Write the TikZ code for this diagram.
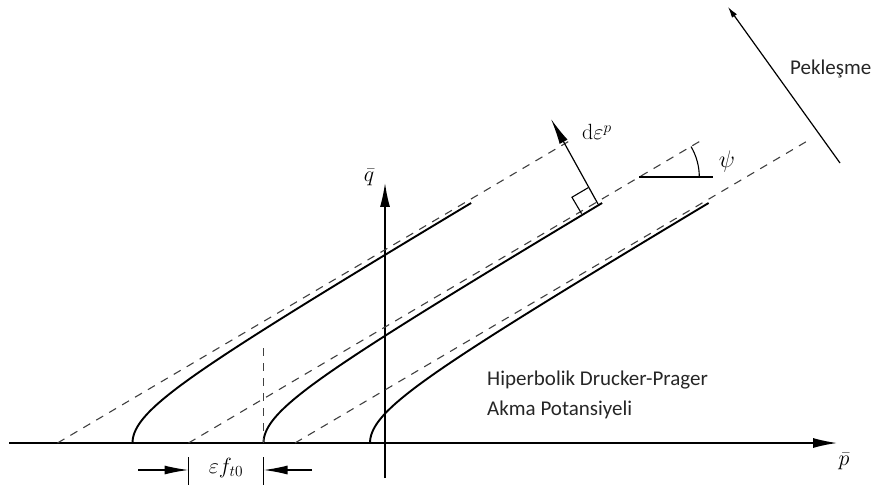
\RequirePackage{fix-cm}
\documentclass[tikz,border=0pt]{standalone}
\usepackage{fontspec}
\newfontfamily\carl{Carlito}
\usetikzlibrary{arrows.meta,calc}
\begin{document}
\begin{tikzpicture}[x=1pt,y=-1pt,
  axisline/.style={line width=1.3pt,-{Latex[length=24,width=10]}},
  dashln/.style={line width=1.1pt,dash pattern=on 8pt off 7pt,black!75},
  curveln/.style={line width=1.9pt},
  dimarrow/.style={line width=1.3pt,-{Latex[length=24,width=9]}},
  thinln/.style={line width=1.1pt},
  mathlbl/.style={font=\fontsize{22}{24}\selectfont,inner sep=0pt},
  txtlbl/.style={font=\carl\fontsize{21}{24}\selectfont,inner sep=0pt,anchor=base west,text=black!85}]
\useasboundingbox (0,0) rectangle (880,486);
% axes
\coordinate (pS) at (9,443);
\coordinate (pE) at (837,443);
\coordinate (qS) at (385,478);
\coordinate (qE) at (385,183);
\draw[axisline] (pS) -- (pE);
\draw[axisline] (qS) -- (qE);
\node[mathlbl] (plbl) at (844,461) {$\bar{p}$};
\node[mathlbl] (qlbl) at (369,177) {$\bar{q}$};
% dashed asymptotes
\coordinate (d1s) at (57.5,443); \coordinate (d1e) at (571,140);
\coordinate (d2s) at (188.5,443); \coordinate (d2e) at (702,140);
\coordinate (d3s) at (295,443); \coordinate (d3e) at (809,140);
\draw[dashln] (d1s) -- (d1e);
\draw[dashln] (d2s) -- (d2e);
\draw[dashln] (d3s) -- (d3e);
% hyperbolic curves
\draw[curveln] plot[domain=0:240,samples=90,smooth] ({57.5+sqrt((\x/100)^2+0.1958)*169.49},{443-\x});
\draw[curveln] plot[domain=0:240,samples=90,smooth] ({188.5+sqrt((\x/100)^2+0.1958)*169.49},{443-\x});
\draw[curveln] plot[domain=0:240,samples=90,smooth] ({295+sqrt((\x/100)^2+0.1958)*169.49},{443-\x});
% epsilon f_t0 dimension
\coordinate (vdT) at (263.5,348);
\coordinate (vdB) at (263.5,443);
\draw[dashln] (vdT) -- (vdB);
\coordinate (t1a) at (188.5,457); \coordinate (t1b) at (188.5,485);
\coordinate (t2a) at (263.5,457); \coordinate (t2b) at (263.5,485);
\draw[thinln] (t1a) -- (t1b);
\draw[thinln] (t2a) -- (t2b);
\coordinate (a1s) at (138,470); \coordinate (a1e) at (188.5,470);
\coordinate (a2s) at (312,470); \coordinate (a2e) at (263.5,470);
\draw[dimarrow] (a1s) -- (a1e);
\draw[dimarrow] (a2s) -- (a2e);
\node[mathlbl] (eflbl) at (226,468) {$\varepsilon f_{t0}$};
% d epsilon^p arrow with right angle mark
\coordinate (B) at (598,204);
\coordinate (T) at (551,119);
\draw[line width=1.2pt,-{Latex[length=26,width=9]}] (B) -- (T);
\coordinate (sq1) at ($(B)+(-16.4,9.65)$);
\coordinate (sq2) at ($(B)+(-26.05,-6.75)$);
\coordinate (sq3) at ($(B)+(-9.65,-16.4)$);
\draw[thinln] (sq1) -- (sq2) -- (sq3);
\node[mathlbl,anchor=base west] (delbl) at (582,140) {$\mathrm{d}\varepsilon^{p}$};
% psi angle
\coordinate (psiO) at (639.3,177);
\coordinate (psiE) at (713,177);
\draw[thinln] (psiO) -- (psiE);
\draw[thinln] (699.3,177) arc[start angle=0,end angle=-30.5,radius=60];
\node[mathlbl,font=\fontsize{24}{26}\selectfont] (psilbl) at (727,162) {$\psi$};
% hardening arrow
\coordinate (hS) at (840,163);
\coordinate (hE) at (728,7);
\draw[line width=1.2pt,-{Latex[length=11,width=6]}] (hS) -- (hE);
\node[txtlbl] (pek) at (790,75) {Pekleşme};
% text
\node[txtlbl] (hdp) at (487,385) {Hiperbolik Drucker-Prager};
\node[txtlbl] (akma) at (487,415) {Akma Potansiyeli};
\end{tikzpicture}
\end{document}
